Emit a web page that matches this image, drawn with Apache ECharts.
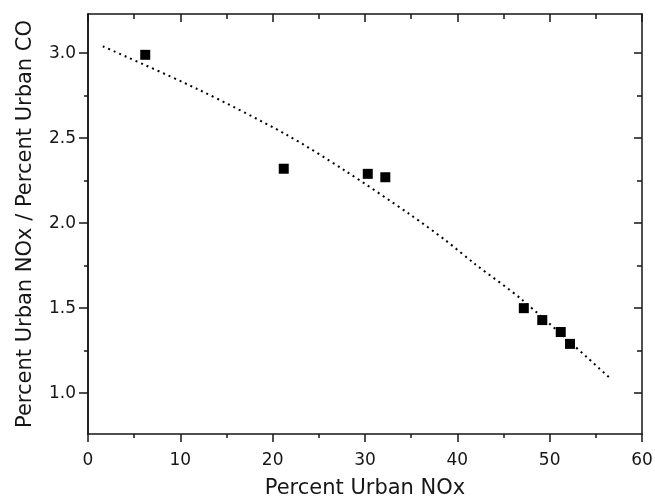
<!DOCTYPE html>
<html>
<head>
    <meta charset="utf-8">
    <title>Urban NOx ratio</title>
    <script src="https://cdn.jsdelivr.net/npm/echarts@6/dist/echarts.min.js"></script>
    <style>
        html, body {
            width: 100%;
            height: 100%;
            margin: 0;
            background: #ffffff;
        }
        #main {
            width: 655px;
            height: 499px;
        }
    </style>
</head>
<body>
    <div id="main"></div>
    <script type="text/javascript">
        // measured points (x = percent urban NOx, y = ratio)
        var pointX = [6.2, 21.2, 30.3, 32.2, 47.2, 49.2, 51.2, 52.2];
        var pointY = [2.99, 2.32, 2.29, 2.27, 1.50, 1.43, 1.36, 1.29];

        // dotted fit curve
        var fitX = [1.6, 11.8, 21.5, 27.8, 34.9, 38.7, 41.9, 47.0, 56.5];
        var fitY = [3.04, 2.79, 2.52, 2.31, 2.05, 1.90, 1.76, 1.55, 1.09];

        // axis ticks
        var yMajorTicks = [1.0, 1.5, 2.0, 2.5, 3.0];
        var yMinorTicks = [1.25, 1.75, 2.25, 2.75];
        var xTickStep = 10;

        var ink = '#161616';
        var font = 'DejaVu Sans';

        var pairs = function (xs, ys) {
            return xs.map(function (x, i) { return [x, ys[i]]; });
        };

        var frameY = function (pos, values, len, inside) {
            return {
                type: 'value',
                position: pos,
                min: 0.76,
                max: 3.23,
                axisLine: { show: pos === 'left' || len > 6, lineStyle: { color: ink, width: 1.5 } },
                axisTick: { show: true, inside: inside, length: len, customValues: values, lineStyle: { color: ink, width: 1.5 } },
                axisLabel: { show: false },
                splitLine: { show: false }
            };
        };

        var myChart = echarts.init(document.getElementById('main'));

        var leftAxis = frameY('left', yMajorTicks, 9, false);
        leftAxis.axisLabel = {
            show: true,
            customValues: yMajorTicks,
            margin: 12,
            color: ink,
            fontSize: 17,
            fontFamily: font,
            formatter: function (v) { return v.toFixed(1); }
        };
        leftAxis.name = 'Percent Urban NOx / Percent Urban CO';
        leftAxis.nameLocation = 'middle';
        leftAxis.nameGap = 52;
        leftAxis.nameTextStyle = { color: ink, fontSize: 21, fontFamily: font };

        option = {
            backgroundColor: '#ffffff',
            animation: false,
            grid: { left: 88, right: 13, top: 14, bottom: 65, containLabel: false, outerBoundsMode: 'none' },
            xAxis: [
                {
                    type: 'value',
                    position: 'bottom',
                    min: 0,
                    max: 60,
                    interval: xTickStep,
                    axisLine: { lineStyle: { color: ink, width: 1.5 } },
                    axisTick: { length: 8, lineStyle: { color: ink, width: 1.5 } },
                    minorTick: { show: true, splitNumber: 2, length: 4, lineStyle: { color: ink, width: 1.5 } },
                    axisLabel: { margin: 18, color: ink, fontSize: 17, fontFamily: font },
                    splitLine: { show: false },
                    name: 'Percent Urban NOx',
                    nameLocation: 'middle',
                    nameGap: 44,
                    nameTextStyle: { color: ink, fontSize: 21, fontFamily: font }
                },
                {
                    type: 'value',
                    position: 'top',
                    min: 0,
                    max: 60,
                    interval: xTickStep,
                    axisLine: { lineStyle: { color: ink, width: 1.5 } },
                    axisTick: { inside: true, length: 8, lineStyle: { color: ink, width: 1.5 } },
                    minorTick: { show: true, splitNumber: 2, length: 5, lineStyle: { color: ink, width: 1.5 } },
                    axisLabel: { show: false },
                    splitLine: { show: false }
                }
            ],
            yAxis: [
                leftAxis,
                frameY('left', yMinorTicks, 4, false),
                frameY('right', yMajorTicks, 8, true),
                frameY('right', yMinorTicks, 5, true)
            ],
            series: [
                {
                    type: 'line',
                    data: pairs(fitX, fitY),
                    smooth: 0.3,
                    symbol: 'none',
                    lineStyle: { color: '#000000', width: 2, type: [2, 4] },
                    z: 2
                },
                {
                    type: 'scatter',
                    data: pairs(pointX, pointY),
                    symbol: 'rect',
                    symbolSize: 10,
                    itemStyle: { color: '#000000', opacity: 1 },
                    z: 3
                }
            ]
        };

        myChart.setOption(option);
    </script>
</body>
</html>
